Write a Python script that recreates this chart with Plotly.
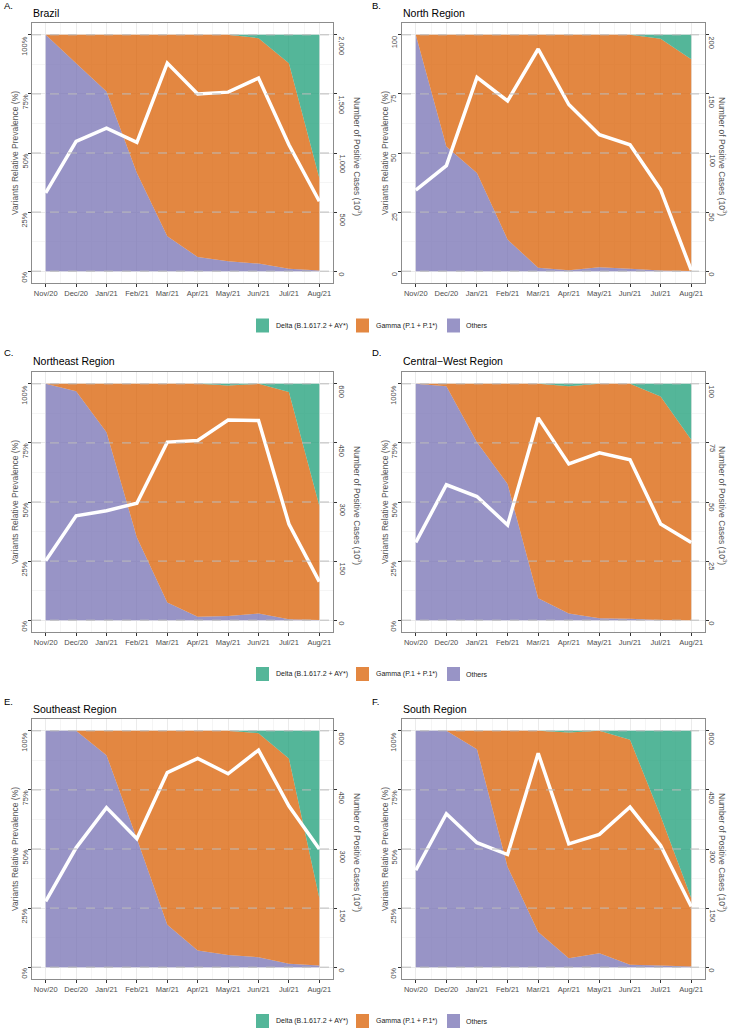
import plotly.graph_objects as go

months = ["Nov/20", "Dec/20", "Jan/21", "Feb/21", "Mar/21", "Apr/21", "May/21", "Jun/21", "Jul/21", "Aug/21"]

# Brazil
br_others = [100, 88, 76, 41.5, 14.8, 6, 4.2, 3.2, 1, 0.3]
br_gamma = [0, 12, 24, 58.5, 85.2, 94, 95.8, 95.4, 87, 39.1]
br_delta = [0, 0, 0, 0, 0, 0, 0, 1.4, 12, 60.6]
br_cases = [662, 1099, 1211, 1090, 1761, 1499, 1515, 1634, 1070, 592]

# North
no_others = [100, 52.8, 41.5, 13.4, 1.4, 0.4, 1.7, 1, 0.3, 0.1]
no_gamma = [0, 47.2, 58.5, 86.6, 98.6, 99.6, 98.3, 99, 98, 89.6]
no_delta = [0, 0, 0, 0, 0, 0, 0, 0, 1.7, 10.3]
no_cases = [68.5, 89.3, 164, 144, 188, 141, 115.5, 107, 69, 0.8]

# Northeast
ne_others = [100, 96.9, 79.5, 35, 7.5, 1.4, 1.8, 2.8, 0.4, 0.1]
ne_gamma = [0, 3.1, 20.5, 65, 92.5, 98.6, 97.5, 97.2, 96.1, 48.3]
ne_delta = [0, 0, 0, 0, 0, 0, 0.7, 0, 3.5, 51.6]
ne_cases = [151, 265, 278, 297, 452, 456, 508, 507, 244, 98]

# Central-West
cw_others = [100, 99, 75.3, 57.6, 9.3, 2.8, 0.8, 0.6, 0.1, 0]
cw_gamma = [0, 1, 24.7, 42.4, 90.7, 96.2, 99.2, 99.4, 94.5, 76.3]
cw_delta = [0, 0, 0, 0, 0, 1, 0, 0, 5.4, 23.7]
cw_cases = [32.9, 57.3, 52.3, 40.3, 85.6, 66.1, 70.8, 67.9, 40.7, 32.9]

# Southeast
se_others = [100, 100, 89.7, 54.3, 18, 7.1, 5.2, 4.2, 1.4, 0.7]
se_gamma = [0, 0, 10.3, 45.7, 82, 92.9, 94.8, 94.8, 86.9, 28.6]
se_delta = [0, 0, 0, 0, 0, 0, 0, 1, 11.7, 70.7]
se_cases = [167, 303, 405, 326, 494, 530, 491, 551, 409, 300]

# South
so_others = [100, 100, 92.2, 42.4, 14.9, 3.8, 5.9, 1, 0.7, 0.3]
so_gamma = [0, 0, 7.8, 57.6, 85.1, 95.5, 94.1, 95.2, 63.3, 29]
so_delta = [0, 0, 0, 0, 0, 0.7, 0, 3.8, 36, 70.7]
so_cases = [246, 389.5, 316, 286, 543, 313, 337, 406.5, 309, 154]

pct_ticks = [0, 25, 50, 75, 100]
cases_ticks_br = [0, 500, 1000, 1500, 2000]
cases_ticks_no = [0, 50, 100, 150, 200]
cases_ticks_600 = [0, 150, 300, 450, 600]
cases_ticks_cw = [0, 25, 50, 75, 100]

legend_names = ["Delta (B.1.617.2 + AY*)", "Gamma (P.1 + P.1*)", "Others"]

W, H = 730, 1029
FONT = "Liberation Sans, Arial, sans-serif"
C_OTH = "rgba(117,112,179,0.75)"
C_GAM = "rgba(217,95,2,0.75)"
C_DEL = "rgba(27,158,119,0.75)"
TICKC = "#4D4D4D"


def fx(x):
    return x / W


def fy(y):
    return 1 - y / H


panels = [
    dict(lab="A.", title="Brazil", o=br_others, g=br_gamma, d=br_delta, c=br_cases, ct=cases_ticks_br, pct=True, col=0, row=0),
    dict(lab="B.", title="North Region", o=no_others, g=no_gamma, d=no_delta, c=no_cases, ct=cases_ticks_no, pct=False, col=1, row=0),
    dict(lab="C.", title="Northeast Region", o=ne_others, g=ne_gamma, d=ne_delta, c=ne_cases, ct=cases_ticks_600, pct=True, col=0, row=1),
    dict(lab="D.", title="Central\u2212West Region", o=cw_others, g=cw_gamma, d=cw_delta, c=cw_cases, ct=cases_ticks_cw, pct=True, col=1, row=1),
    dict(lab="E.", title="Southeast Region", o=se_others, g=se_gamma, d=se_delta, c=se_cases, ct=cases_ticks_600, pct=True, col=0, row=2),
    dict(lab="F.", title="South Region", o=so_others, g=so_gamma, d=so_delta, c=so_cases, ct=cases_ticks_600, pct=True, col=1, row=2),
]

col_x = [(32, 333), (402, 705)]
row_y = [(23, 283), (372, 632), (719, 979)]
left_title_x = [15, 385]
right_title_x = [358, 723]
left_lab_x = [25, 394]
right_lab_x = [342, 712]
label_y = [5, 352, 701]
title_y = [13, 361, 709]
legend_y = [325.5, 674, 1021]

fig = go.Figure()
layout = dict(
    width=W, height=H, margin=dict(l=0, r=0, t=0, b=0),
    paper_bgcolor="white", plot_bgcolor="white", showlegend=False,
    font=dict(family=FONT, color=TICKC),
)
shapes = []
annotations = []
xs = list(range(len(months)))
TF = dict(size=7.5, color=TICKC, family=FONT)

for i, p in enumerate(panels):
    n = i + 1
    xname = "x" if n == 1 else f"x{n}"
    yl = 2 * i + 1
    yr = 2 * i + 2
    ylname = "y" if yl == 1 else f"y{yl}"
    yrname = f"y{yr}"
    sg = f"s{n}"
    for vals, col, nm in [(p["o"], C_OTH, "Others"), (p["g"], C_GAM, "Gamma"), (p["d"], C_DEL, "Delta")]:
        fig.add_trace(go.Scatter(x=xs, y=vals, stackgroup=sg, mode="none", fillcolor=col,
                                 name=nm, xaxis=xname, yaxis=ylname, hoverinfo="skip"))
    fig.add_trace(go.Scatter(x=xs, y=p["c"], mode="lines", line=dict(color="white", width=3.5),
                             xaxis=xname, yaxis=yrname, name="cases"))

    x0, x1 = col_x[p["col"]]
    y0, y1 = row_y[p["row"]]
    xdom = [fx(x0), fx(x1)]
    ydom = [fy(y1), fy(y0)]
    cmax = max(p["ct"])

    layout["xaxis" if n == 1 else f"xaxis{n}"] = dict(
        domain=xdom, anchor=ylname, range=[-0.45, len(months) - 1 + 0.45],
        tickmode="array", tickvals=xs, ticktext=months, tickfont=TF,
        ticks="outside", ticklen=3, tickcolor="#333", tickwidth=0.8,
        showgrid=True, gridcolor="#EBEBEB", gridwidth=1,
        minor=dict(tick0=0.5, dtick=1, showgrid=True, gridcolor="#F5F5F5", gridwidth=0.6, ticks=""),
        showline=True, mirror=True, linecolor="#8C8C8C", linewidth=1, zeroline=False,
    )
    layout["yaxis" if yl == 1 else f"yaxis{yl}"] = dict(
        domain=ydom, anchor=xname, range=[-5, 105],
        tickmode="array", tickvals=pct_ticks, showticklabels=False,
        ticks="outside", ticklen=3, tickcolor="#333", tickwidth=0.8,
        showgrid=True, gridcolor="#EBEBEB", gridwidth=1,
        minor=dict(tick0=12.5, dtick=25, showgrid=True, gridcolor="#F5F5F5", gridwidth=0.6, ticks=""),
        showline=True, mirror=True, linecolor="#8C8C8C", linewidth=1, zeroline=False,
    )
    layout[f"yaxis{yr}"] = dict(
        overlaying=ylname, anchor=xname, side="right",
        range=[-0.05 * cmax, 1.05 * cmax],
        tickmode="array", tickvals=p["ct"], showticklabels=False,
        ticks="outside", ticklen=3, tickcolor="#333", tickwidth=0.8,
        showgrid=False, zeroline=False, showline=False,
    )
    # y tick labels (rotated, hanging below each tick as in the reference)
    for v in pct_ticks:
        annotations.append(dict(text=f"{v}%" if p["pct"] else f"{v}", xref="paper", yref=ylname,
                                x=fx(left_lab_x[p["col"]]), y=v, yshift=0, textangle=-90,
                                xanchor="center", yanchor="top", showarrow=False, borderpad=0, font=TF))
    for v in p["ct"]:
        annotations.append(dict(text=f"{v:,}", xref="paper", yref=yrname,
                                x=fx(right_lab_x[p["col"]]), y=v, yshift=0, textangle=90,
                                xanchor="center", yanchor="top", showarrow=False, borderpad=0, font=TF))
    for v in pct_ticks:
        shapes.append(dict(type="line", xref=f"{xname} domain", x0=0, x1=1, yref=ylname, y0=v, y1=v,
                           line=dict(color="#BDBDBD", width=1, dash="dash"), layer="above"))
    # panel label and title
    annotations.append(dict(text=p["lab"], xref="paper", yref="paper", x=fx(2 + p["col"] * 368), y=fy(label_y[p["row"]]),
                            xanchor="left", yanchor="middle", showarrow=False,
                            font=dict(size=9.5, color="black", family=FONT)))
    annotations.append(dict(text=p["title"], xref="paper", yref="paper", x=fx(x0 - 1), y=fy(title_y[p["row"]]),
                            xanchor="left", yanchor="middle", showarrow=False,
                            font=dict(size=10.5, color="black", family=FONT)))
    ymid = fy((y0 + y1) / 2)
    annotations.append(dict(text="Variants Relative Prevalence (%)", xref="paper", yref="paper",
                            x=fx(left_title_x[p["col"]]), y=ymid, textangle=-90,
                            xanchor="center", yanchor="middle", showarrow=False,
                            font=dict(size=8.5, color="#555555", family=FONT)))
    annotations.append(dict(text="Number of Positive Cases (10<sup>3</sup>)", xref="paper", yref="paper",
                            x=fx(right_title_x[p["col"]]), y=fy((y0 + y1) / 2 + 3), textangle=90,
                            xanchor="center", yanchor="middle", showarrow=False,
                            font=dict(size=8.5, color="#555555", family=FONT)))

# legends (one per row)
leg_items = [(256, 269, 274, C_DEL, legend_names[0]), (356, 369, 374, C_GAM, legend_names[1]),
             (447, 460, 464, C_OTH, legend_names[2])]
for ly in legend_y:
    for sx0, sx1, tx, col, nm in leg_items:
        shapes.append(dict(type="rect", xref="paper", yref="paper", x0=fx(sx0), x1=fx(sx1),
                           y0=fy(ly + 7), y1=fy(ly - 7), fillcolor=col, line=dict(width=0)))
        annotations.append(dict(text=nm, xref="paper", yref="paper", x=fx(tx), y=fy(ly),
                                xanchor="left", yanchor="middle", showarrow=False,
                                font=dict(size=7, color="#222222", family=FONT)))

layout["shapes"] = shapes
layout["annotations"] = annotations
fig.update_layout(**layout)
fig.write_html("out.html", config={"displayModeBar": False},
               post_script="document.body.style.margin='0px';document.body.style.overflow='hidden';")
